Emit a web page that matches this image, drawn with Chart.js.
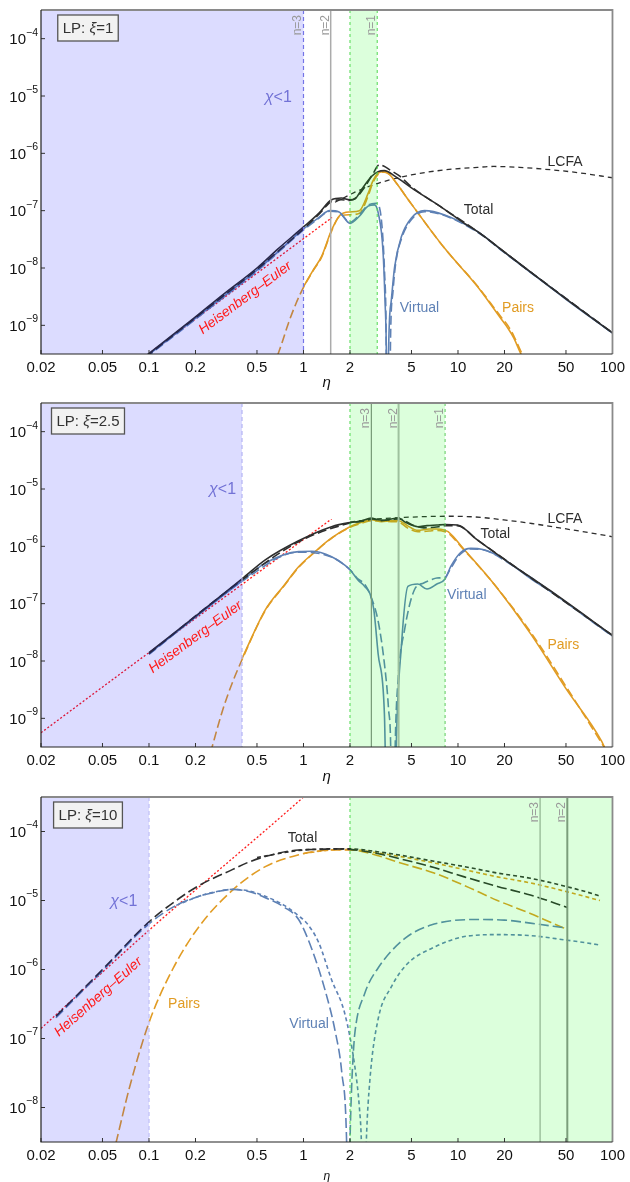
<!DOCTYPE html>
<html><head><meta charset="utf-8">
<script src="https://cdn.jsdelivr.net/npm/chart.js@4.4.0/dist/chart.umd.min.js"></script>
<style>
html,body{margin:0;padding:0;background:#fff;}
#wrap{position:relative;width:630px;height:1182px;overflow:hidden;}
canvas{position:absolute;left:0;}
</style></head><body>
<div id="wrap">
<canvas id="c1" width="630" height="393" style="top:0px"></canvas>
<canvas id="c2" width="630" height="394" style="top:393px"></canvas>
<canvas id="c3" width="630" height="395" style="top:787px"></canvas>
</div>
<script>
// ---------- axes ----------
const xTicks = [0.02,0.05,0.1,0.2,0.5,1,2,5,10,20,50,100];
const xTickLabels = ['0.02','0.05','0.1','0.2','0.5','1','2','5','10','20','50','100'];
const yTicksAB = [1e-4,1e-5,1e-6,1e-7,1e-8,1e-9];
const yTickExpAB = ['−4','−5','−6','−7','−8','−9'];
const yTicksC = [1e-4,1e-5,1e-6,1e-7,1e-8];
const yTickExpC = ['−4','−5','−6','−7','−8'];
const xRange = [0.02, 100];
const yRangeAB = [3.1623e-10, 3.1623e-4];
const yRangeC = [3.1623e-9, 3.1623e-4];

// ---------- panel 1 : LP xi=1 ----------
const p1TotalEta = [0.095,0.2,0.3,0.5,0.69,1.0,1.25,1.52,1.76,2.0,2.15,2.37,2.74,3.04,3.34,3.9,5.0,8.0,11.0,13.4,20,30,50,100];
const p1TotalVal = [2.9e-10,1.4e-9,3.4e-9,1.0e-8,2.2e-8,5.2e-8,8.9e-8,1.55e-7,1.66e-7,1.55e-7,1.6e-7,2.3e-7,3.9e-7,4.8e-7,5.0e-7,4.0e-7,2.5e-7,1.1e-7,6.0e-8,4.3e-8,1.9e-8,8.2e-9,2.9e-9,7.4e-10];
const p1TotalDashEta = [0.095,0.3,0.5,0.69,1.0,1.25,1.52,1.76,2.0,2.2,2.5,2.8,3.1,3.3,3.6,4.2,5.0,8.0,13.4,30,100];
const p1TotalDashVal = [2.8e-10,3.2e-9,9.5e-9,2.0e-8,4.8e-8,8.5e-8,1.45e-7,1.55e-7,1.5e-7,1.7e-7,2.6e-7,4.3e-7,6.3e-7,6.0e-7,5.2e-7,4.0e-7,2.6e-7,1.1e-7,4.3e-8,8.2e-9,7.4e-10];
const p1LcfaEta = [1.6,2.0,2.15,3.04,4.98,8.0,13.4,17.1,25,35.9,60,100];
const p1LcfaVal = [1.4e-7,1.9e-7,2.1e-7,3.0e-7,4.2e-7,5.1e-7,5.7e-7,5.9e-7,5.7e-7,5.3e-7,4.6e-7,3.75e-7];
const p1PairsEta = [1.0,1.15,1.31,1.52,1.72,2.0,2.3,2.62,2.8,3.04,3.34,3.6,4.0,5.0,8.2,13.4,19,21,23,25.5,27];
const p1PairsVal = [4.7e-9,9e-9,1.6e-8,4.6e-8,8.3e-8,9.5e-8,1.0e-7,2.0e-7,3.2e-7,4.5e-7,4.8e-7,4.3e-7,3.0e-7,1.3e-7,2.2e-8,4.7e-9,1.3e-9,9e-10,6e-10,3.2e-10,2.4e-10];
const p1PairsDashEta = [0.68,0.725,0.8,0.9,1.0,1.15,1.31,1.52,1.72,2.0,2.3,2.62,2.8,3.04,3.34,3.6,4.0,5.0,8.2,13.4,19,21,23,26,28];
const p1PairsDashVal = [3e-10,4.9e-10,1.1e-9,2.5e-9,4.6e-9,8.8e-9,1.55e-8,4.4e-8,8e-8,8.5e-8,9e-8,1.8e-7,3.0e-7,4.3e-7,4.7e-7,4.3e-7,3.0e-7,1.3e-7,2.2e-8,4.8e-9,1.4e-9,1.0e-9,6.5e-10,3.2e-10,2.4e-10];
const p1VirtEta = [0.095,0.3,0.5,0.69,1.0,1.25,1.48,1.7,2.0,2.3,2.62,2.88,3.05,3.27,3.37,3.44,3.47,3.52,3.55,3.70,3.89,4.3,4.98,6.07,8.2,13.4,20,30,50,100];
const p1VirtVal = [2.8e-10,3.1e-9,9.2e-9,1.95e-8,4.8e-8,7.5e-8,1.0e-7,9.5e-8,6.0e-8,8.0e-8,1.2e-7,1.26e-7,9e-8,2e-8,2.7e-9,3e-10,1e-11,1e-11,3e-10,2.7e-9,1.05e-8,3.5e-8,7.4e-8,1.0e-7,8.4e-8,4.3e-8,1.88e-8,8.1e-9,2.85e-9,7.3e-10];
const p1VirtDashEta = [0.095,0.3,0.5,0.69,1.0,1.25,1.48,1.7,2.0,2.3,2.62,2.95,3.1,3.25,3.35,3.42,3.47,3.6,3.66,3.8,3.95,4.3,5.0,6.07,8.2,13.4,20,100];
const p1VirtDashVal = [2.7e-10,3.0e-9,8.8e-9,1.9e-8,4.6e-8,7.3e-8,9.8e-8,9.3e-8,6.3e-8,8.5e-8,1.25e-7,1.35e-7,1.15e-7,4e-8,8e-9,1.2e-9,1e-11,1e-11,6e-10,4e-9,1.2e-8,3.2e-8,7e-8,9.6e-8,8.2e-8,4.2e-8,1.85e-8,7.3e-10];
const p1HeEta = [0.09,0.5,1.53];
const p1HeVal = [2.6e-10,8.1e-9,7.6e-8];

// ---------- panel 2 : LP xi=2.5 ----------
const p2TotalEta = [0.1,0.211,0.4,0.566,0.93,1.52,2.0,2.35,2.74,3.04,3.34,3.7,4.13,4.6,5.5,6.3,7.3,8.25,9.9,13.4,21.8,39.4,100];
const p2TotalVal = [1.4e-8,6.8e-8,2.7e-7,5.8e-7,1.25e-6,2.2e-6,2.6e-6,2.75e-6,3.1e-6,2.9e-6,2.85e-6,3.0e-6,3.1e-6,2.6e-6,2.2e-6,2.3e-6,2.35e-6,2.4e-6,2.35e-6,1.28e-6,5.0e-7,1.7e-7,2.8e-8];
const p2TotalDashEta = [0.1,0.4,0.93,2.0,2.5,2.8,3.2,3.7,4.2,5.0,6.0,7.5,8.25,9.9,13.4,100];
const p2TotalDashVal = [1.35e-8,2.6e-7,1.2e-6,2.55e-6,2.8e-6,3.0e-6,2.8e-6,2.95e-6,3.0e-6,2.4e-6,2.1e-6,2.2e-6,2.3e-6,2.3e-6,1.28e-6,2.8e-8];
const p2LcfaEta = [2.0,3.0,4.5,8.5,13,21.8,30,45.5,96,100];
const p2LcfaVal = [2.65e-6,3.0e-6,3.2e-6,3.35e-6,3.25e-6,2.8e-6,2.5e-6,2.1e-6,1.5e-6,1.47e-6];
const p2PairsEta = [0.4,0.566,0.75,0.93,1.19,1.52,2.0,2.35,2.74,3.2,3.7,4.13,4.7,5.5,6.5,7.3,8.25,8.63,11.0,17.1,30,50,85,92];
const p2PairsVal = [1.1e-8,7.8e-8,2.1e-7,4.4e-7,8.1e-7,1.4e-6,2.2e-6,2.6e-6,2.9e-6,2.7e-6,2.8e-6,2.8e-6,2.3e-6,1.9e-6,2.0e-6,2.0e-6,1.9e-6,1.8e-6,8.7e-7,2.2e-7,2.8e-8,3.3e-9,4e-10,2.5e-10];
const p2PairsDashEta = [0.25,0.3,0.35,0.4,0.566,0.75,0.93,1.19,1.52,2.0,2.35,2.74,3.2,3.7,4.13,4.7,5.5,6.5,7.3,8.25,8.63,11.0,17.1,30,50,88,95];
const p2PairsDashVal = [2.5e-10,1.4e-9,4.5e-9,1.05e-8,7.6e-8,2.05e-7,4.3e-7,8.0e-7,1.38e-6,2.15e-6,2.5e-6,2.8e-6,2.75e-6,2.7e-6,2.65e-6,2.1e-6,1.8e-6,1.85e-6,1.9e-6,1.8e-6,1.7e-6,8.5e-7,2.2e-7,3.0e-8,3.6e-9,3.2e-10,2.3e-10];
const p2VirtEta = [0.1,0.211,0.4,0.566,0.93,1.13,1.52,1.85,2.0,2.25,2.49,2.69,2.85,3.04,3.34,3.48,3.6,3.9,3.98,4.3,4.74,5.5,6.3,7.3,8.25,9.0,10.4,12.1,14.5,18,21.8,30,39.4,100];
const p2VirtVal = [1.35e-8,6.5e-8,2.5e-7,5.1e-7,8.1e-7,8.2e-7,6.6e-7,4.7e-7,3.9e-7,2.6e-7,2.0e-7,1.5e-7,8e-8,1.35e-8,1.2e-9,1e-11,1e-11,1e-11,3e-10,1.8e-8,2.0e-7,2.2e-7,1.8e-7,2.2e-7,2.7e-7,4.5e-7,7.8e-7,9.2e-7,8.8e-7,7.0e-7,5.0e-7,2.65e-7,1.65e-7,2.75e-8];
const p2VirtDashEta = [0.1,0.4,0.93,1.52,2.0,2.25,2.49,2.74,3.04,3.34,3.55,3.68,3.72,3.85,3.92,4.1,4.51,5.2,6.0,6.69,7.3,8.25,9.0,10.4,12.1,14.5,21.8,100];
const p2VirtDashVal = [1.3e-8,2.45e-7,7.9e-7,6.5e-7,3.9e-7,2.7e-7,2.2e-7,1.3e-7,5e-8,9e-9,1.5e-9,2e-10,1e-11,1e-11,3e-10,5e-9,3.5e-8,1.7e-7,2.3e-7,2.6e-7,2.8e-7,2.9e-7,4.2e-7,7.4e-7,9.0e-7,8.7e-7,4.9e-7,2.7e-8];
const p2HeEta = [0.02,0.1,1.52];
const p2HeVal = [5.6e-10,1.4e-8,3.0e-6];

// ---------- panel 3 : LP xi=10 ----------
const p3TotalEta = [0.025,0.05,0.1,0.15,0.211,0.346,0.442,0.6,0.93,1.25,1.6,2.0,3.0,4.08,7.0,11.0,18,29.4,40,51];
const p3TotalVal = [2.1e-7,1.0e-6,4.9e-6,1.0e-5,1.65e-5,2.8e-5,3.6e-5,4.5e-5,5.4e-5,5.5e-5,5.6e-5,5.5e-5,4.8e-5,4.1e-5,3.0e-5,2.2e-5,1.6e-5,1.2e-5,9.6e-6,7.9e-6];
const p3TotalShortEta = [0.5,0.93,1.5,2.0,3.0,4.08,7.0,11.0,18,29.4,50,79,83];
const p3TotalShortVal = [4.2e-5,5.3e-5,5.6e-5,5.6e-5,5.1e-5,4.6e-5,3.7e-5,3.1e-5,2.5e-5,2.1e-5,1.6e-5,1.2e-5,1.15e-5];
const p3PairsEta = [0.061,0.075,0.1,0.142,0.211,0.346,0.566,0.93,1.25,1.6,2.0,3.0,4.08,7.0,11.0,18,29.4,40,51];
const p3PairsVal = [3e-9,2e-8,1.7e-7,1.0e-6,4.2e-6,1.4e-5,3.1e-5,4.6e-5,5.2e-5,5.4e-5,5.4e-5,4.5e-5,3.6e-5,2.5e-5,1.65e-5,1.0e-5,6.5e-6,4.8e-6,3.8e-6];
const p3PairsShortEta = [1.0,1.5,2.0,3.0,4.08,7.0,11.0,18,29.4,50,79,83];
const p3PairsShortVal = [4.8e-5,5.4e-5,5.5e-5,4.9e-5,4.4e-5,3.5e-5,2.8e-5,2.2e-5,1.8e-5,1.35e-5,1.03e-5,1.0e-5];
const p3VirtEta = [0.025,0.05,0.1,0.15,0.211,0.28,0.346,0.442,0.566,0.75,0.93,1.13,1.38,1.6,1.77,1.9,1.95,2.0,2.05,2.1,2.15,2.49,3.04,4.51,6.69,12.7,20,29.4,49.5];
const p3VirtVal = [2.0e-7,9.6e-7,4.6e-6,8.5e-6,1.15e-5,1.35e-5,1.45e-5,1.35e-5,1.1e-5,8e-6,5.3e-6,2.0e-6,5.0e-7,1.3e-7,3.2e-8,3.4e-9,1e-10,3.2e-9,2e-8,6e-8,1.2e-7,4.5e-7,1.05e-6,2.8e-6,4.4e-6,5.3e-6,5.2e-6,4.7e-6,4.0e-6];
const p3VirtShortEta = [0.15,0.211,0.28,0.346,0.442,0.566,0.75,0.93,1.05,1.25,1.52,1.85,2.15,2.3,2.37,2.45,2.55,2.69,3.04,3.70,4.74,6.69,11.0,18.0,29.4,48.3,79.1,83];
const p3VirtShortVal = [8.5e-6,1.15e-5,1.36e-5,1.45e-5,1.38e-5,1.15e-5,8.5e-6,6.0e-6,4.7e-6,2.5e-6,7.1e-7,2.3e-7,3.9e-8,1e-8,3.2e-9,1e-10,3.2e-9,2.5e-8,1.9e-7,5.6e-7,1.23e-6,2.0e-6,3.0e-6,3.2e-6,3.1e-6,2.7e-6,2.3e-6,2.25e-6];
const p3HeEta = [0.02,0.1,1.0,1.2];
const p3HeVal = [1.4e-7,3.7e-6,3.16e-4,4.6e-4];

// ---------- styles ----------
const BLACK='#2e2e2e', BLUE='#5E81B5', ORANGE='#E19C24', RED='#ff1a1a';
const FONT='"Liberation Sans", Arial, sans-serif';
Chart.defaults.font.family = FONT;

function pts(e,v){ return e.map((x,i)=>({x:x, y:v[i]})); }
function line(label,e,v,color,dash,w){
  return {label:label, data:pts(e,v), borderColor:color, borderWidth:w||1.6, borderDash:dash||[],
    pointRadius:0, fill:false, cubicInterpolationMode:'monotone', borderCapStyle:'butt'};
}
function nearestLabel(val, ticks, labels){
  for(let i=0;i<ticks.length;i++){ if(Math.abs(Math.log10(val)-Math.log10(ticks[i]))<1e-6) return labels[i]; }
  return '';
}
function richWidth(ctx, parts, size){
  let w=0; parts.forEach(p=>{ ctx.font=(p.i?'italic ':'')+size+'px '+FONT; w+=ctx.measureText(p.t).width; }); return w;
}
function drawRich(ctx, parts, x, y, size, align, color){
  const w=richWidth(ctx,parts,size);
  let cx = align==='right'? x-w : align==='center'? x-w/2 : x;
  ctx.fillStyle=color; ctx.textBaseline='middle'; ctx.textAlign='left';
  parts.forEach(p=>{ ctx.font=(p.i?'italic ':'')+size+'px '+FONT; ctx.fillText(p.t,cx,y); cx+=ctx.measureText(p.t).width; });
  return w;
}

function makePanel(id, P){
  const deco = {
    id:'deco',
    afterDatasetsDraw(chart){
      const ctx=chart.ctx, a=chart.chartArea, X=v=>chart.scales.x.getPixelForValue(v);
      ctx.save();
      ctx.beginPath(); ctx.rect(a.left,a.top,a.right-a.left,a.bottom-a.top); ctx.clip();
      P.nLines.forEach(n=>{ if(!n.color) return; ctx.strokeStyle=n.color; ctx.lineWidth=n.w; ctx.setLineDash([]);
        const px=X(n.x); ctx.beginPath(); ctx.moveTo(px,a.top); ctx.lineTo(px,a.bottom); ctx.stroke(); });
      const cx=X(P.chi);
      ctx.fillStyle='rgba(0,0,255,0.137)'; ctx.fillRect(a.left,a.top,cx-a.left,a.bottom-a.top);
      const b0=X(P.band[0]), b1=Math.min(X(P.band[1]),a.right);
      ctx.fillStyle='rgba(0,255,0,0.137)'; ctx.fillRect(b0,a.top,b1-b0,a.bottom-a.top);
      P.edges.forEach(e=>{ ctx.strokeStyle=e.color; ctx.lineWidth=e.w||1; ctx.setLineDash(e.dash||[]);
        const px=X(e.x); ctx.beginPath(); ctx.moveTo(px,a.top); ctx.lineTo(px,a.bottom); ctx.stroke(); });
      ctx.restore();
    },
    afterDraw(chart){
      const ctx=chart.ctx, a=chart.chartArea, X=v=>chart.scales.x.getPixelForValue(v), Y=v=>chart.scales.y.getPixelForValue(v);
      ctx.save();
      ctx.setLineDash([]);
      // ticks inward
      ctx.strokeStyle='#333'; ctx.lineWidth=1;
      xTicks.forEach(v=>{ const px=X(v); ctx.beginPath(); ctx.moveTo(px,a.bottom); ctx.lineTo(px,a.bottom-4); ctx.stroke(); });
      P.yTicks.forEach(v=>{ const py=Y(v); ctx.beginPath(); ctx.moveTo(a.left,py); ctx.lineTo(a.left+4,py); ctx.stroke(); });
      // y tick labels: 10 with superscript exponent
      P.yTicks.forEach((v,i)=>{ const py=Y(v);
        ctx.fillStyle='#111'; ctx.textBaseline='middle'; ctx.textAlign='right';
        ctx.font='10.5px '+FONT; const ew=ctx.measureText(P.yExp[i]).width;
        const xr=a.left-3;
        ctx.fillText(P.yExp[i], xr, py-6);
        ctx.font='15px '+FONT; ctx.fillText('10', xr-ew, py+1.5);
      });
      // frame
      ctx.strokeStyle='#8a8a8a'; ctx.lineWidth=1.8;
      ctx.beginPath(); ctx.moveTo(a.left,a.top); ctx.lineTo(a.right,a.top); ctx.lineTo(a.right,a.bottom); ctx.stroke();
      ctx.strokeStyle='#222'; ctx.lineWidth=1.2;
      ctx.beginPath(); ctx.moveTo(a.left,a.top); ctx.lineTo(a.left,a.bottom); ctx.lineTo(a.right,a.bottom); ctx.stroke();
      // n labels
      P.nLines.forEach(n=>{ ctx.save(); ctx.translate(X(n.x)-2, a.top+5); ctx.rotate(-Math.PI/2);
        ctx.font='12px '+FONT; ctx.fillStyle='#9a9a9a'; ctx.textAlign='right'; ctx.textBaseline='alphabetic';
        ctx.fillText(n.label,0,0); ctx.restore(); });
      // curve labels
      P.labels.forEach(l=>{ ctx.font='14px '+FONT; ctx.fillStyle=l.c; ctx.textAlign='left'; ctx.textBaseline='middle';
        ctx.fillText(l.t, X(l.x), Y(l.y)); });
      // chi < 1
      drawRich(ctx,[{t:'χ',i:true},{t:'<1'}], X(P.chiLabel.x), Y(P.chiLabel.y), 16, 'right', '#7272d6');
      // Heisenberg-Euler label
      const he=P.heLine;
      const ang=Math.atan2(Y(he.v[he.v.length-1])-Y(he.v[0]), X(he.e[he.e.length-1])-X(he.e[0]));
      ctx.save(); ctx.translate(X(P.heLabel.x), Y(P.heLabel.y)); ctx.rotate(ang);
      ctx.font='italic 14px '+FONT; ctx.fillStyle=RED; ctx.textAlign='center'; ctx.textBaseline='middle';
      ctx.fillText('Heisenberg–Euler',0,0); ctx.restore();
      // LP box
      const parts=[{t:'LP: '},{t:'ξ',i:true},{t:'='+P.xi}];
      const w=richWidth(ctx,parts,15);
      const bx=a.left+47, by=a.top+18, bw=w+10, bh=26;
      ctx.fillStyle='#f2f2f2'; ctx.fillRect(bx-bw/2,by-bh/2,bw,bh);
      ctx.strokeStyle='#555'; ctx.lineWidth=1.3; ctx.strokeRect(bx-bw/2,by-bh/2,bw,bh);
      drawRich(ctx,parts,bx,by+0.5,15,'center','#333');
      // eta title
      ctx.font='italic '+P.etaSize+'px '+FONT; ctx.fillStyle='#111'; ctx.textAlign='center'; ctx.textBaseline='middle';
      ctx.fillText('η',(a.left+a.right)/2, a.bottom+P.etaOff);
      ctx.restore();
    }
  };
  const cv=document.getElementById(id);
  return new Chart(cv,{
    type:'line',
    data:{datasets:P.datasets},
    options:{
      responsive:false, animation:false, devicePixelRatio:1,
      layout:{padding:{top:10,right:14,left:0,bottom:0}},
      plugins:{legend:{display:false},tooltip:{enabled:false}},
      scales:{
        x:{type:'logarithmic', min:xRange[0], max:xRange[1],
           afterBuildTicks:s=>{ s.ticks=xTicks.map(v=>({value:v})); },
           afterFit:s=>{ s.height=cv.height-P.bottom; },
           grid:{display:false,drawTicks:false}, border:{display:false},
           ticks:{autoSkip:false,maxRotation:0,minRotation:0,padding:5,color:'#111',font:{size:15},
             callback:v=>nearestLabel(v,xTicks,xTickLabels)}},
        y:{type:'logarithmic', min:P.yRange[0], max:P.yRange[1],
           afterBuildTicks:s=>{ s.ticks=P.yTicks.map(v=>({value:v})); },
           afterFit:s=>{ s.width=41; },
           grid:{display:false,drawTicks:false}, border:{display:false},
           ticks:{display:false}}
      }
    },
    plugins:[deco]
  });
}

const LONG=[9,4], SHORT=[4,3], LCFA=[5,4], DOT=[2,2];

makePanel('c1',{
  xi:'1', bottom:354, yRange:yRangeAB, yTicks:yTicksAB, yExp:yTickExpAB, etaSize:15, etaOff:29,
  chi:1, band:[2,3],
  nLines:[{x:1,label:'n=3'},{x:1.5,label:'n=2',color:'#ababab',w:1.5},{x:3,label:'n=1'}],
  edges:[{x:1,color:'#7474e6',dash:[4,3],w:1.2},{x:2,color:'#4fd84f',dash:[3,3]},{x:3,color:'#4fd84f',dash:[3,3]}],
  labels:[{t:'LCFA',x:38,y:6.9e-7,c:BLACK},{t:'Total',x:10.9,y:1.02e-7,c:BLACK},{t:'Virtual',x:4.2,y:2e-9,c:BLUE},{t:'Pairs',x:19.3,y:2e-9,c:ORANGE}],
  chiLabel:{x:0.84,y:9.3e-6}, heLabel:{x:0.42,y:3e-9}, heLine:{e:p1HeEta,v:p1HeVal},
  datasets:[
    line('Total',p1TotalEta,p1TotalVal,BLACK,[],1.6),
    line('Total dashed',p1TotalDashEta,p1TotalDashVal,BLACK,LONG,1.6),
    line('Virtual',p1VirtEta,p1VirtVal,BLUE,[],1.6),
    line('Virtual dashed',p1VirtDashEta,p1VirtDashVal,BLUE,LONG,1.6),
    line('Pairs',p1PairsEta,p1PairsVal,ORANGE,[],1.6),
    line('Pairs dashed',p1PairsDashEta,p1PairsDashVal,ORANGE,LONG,1.6),
    line('LCFA',p1LcfaEta,p1LcfaVal,BLACK,LCFA,1.3),
    line('Heisenberg-Euler',p1HeEta,p1HeVal,RED,DOT,1.3)
  ]
});

makePanel('c2',{
  xi:'2.5', bottom:354, yRange:yRangeAB, yTicks:yTicksAB, yExp:yTickExpAB, etaSize:15, etaOff:30,
  chi:0.4, band:[2,8.25],
  nLines:[{x:2.75,label:'n=3',color:'#8a8a8a',w:1.2},{x:4.125,label:'n=2',color:'#b8b8b8',w:2},{x:8.25,label:'n=1'}],
  edges:[{x:0.4,color:'#b4b4f4',dash:[4,3],w:1.2},{x:2,color:'#4fd84f',dash:[3,3]},{x:8.25,color:'#5cc85c',dash:[3,3]}],
  labels:[{t:'LCFA',x:37.9,y:3.0e-6,c:BLACK},{t:'Total',x:14,y:1.64e-6,c:BLACK},{t:'Virtual',x:8.5,y:1.4e-7,c:BLUE},{t:'Pairs',x:37.9,y:1.9e-8,c:ORANGE}],
  chiLabel:{x:0.366,y:9.6e-6}, heLabel:{x:0.2,y:2.6e-8}, heLine:{e:p2HeEta,v:p2HeVal},
  datasets:[
    line('Total',p2TotalEta,p2TotalVal,BLACK,[],1.6),
    line('Total dashed',p2TotalDashEta,p2TotalDashVal,BLACK,LONG,1.6),
    line('Virtual',p2VirtEta,p2VirtVal,BLUE,[],1.6),
    line('Virtual dashed',p2VirtDashEta,p2VirtDashVal,BLUE,LONG,1.6),
    line('Pairs',p2PairsEta,p2PairsVal,ORANGE,[],1.6),
    line('Pairs dashed',p2PairsDashEta,p2PairsDashVal,ORANGE,LONG,1.6),
    line('LCFA',p2LcfaEta,p2LcfaVal,BLACK,LCFA,1.3),
    line('Heisenberg-Euler',p2HeEta,p2HeVal,RED,DOT,1.3)
  ]
});

makePanel('c3',{
  xi:'10', bottom:355, yRange:yRangeC, yTicks:yTicksC, yExp:yTickExpC, etaSize:12, etaOff:35,
  chi:0.1, band:[2,120],
  nLines:[{x:34,label:'n=3',color:'#b8b8b8',w:1.5},{x:51,label:'n=2',color:'#8f8f8f',w:2}],
  edges:[{x:0.1,color:'#c4c4f8',dash:[4,3],w:1.4},{x:2,color:'#4fd84f',dash:[3,3]}],
  labels:[{t:'Total',x:0.79,y:8.1e-5,c:BLACK},{t:'Pairs',x:0.133,y:3.2e-7,c:ORANGE},{t:'Virtual',x:0.81,y:1.6e-7,c:BLUE}],
  chiLabel:{x:0.084,y:9.6e-6}, heLabel:{x:0.047,y:4e-7}, heLine:{e:p3HeEta,v:p3HeVal},
  datasets:[
    line('Total',p3TotalEta,p3TotalVal,BLACK,[10,4],1.6),
    line('Total short',p3TotalShortEta,p3TotalShortVal,'#333',SHORT,1.6),
    line('Virtual',p3VirtEta,p3VirtVal,BLUE,[10,4],1.6),
    line('Virtual short',p3VirtShortEta,p3VirtShortVal,BLUE,SHORT,1.6),
    line('Pairs',p3PairsEta,p3PairsVal,ORANGE,[10,4],1.6),
    line('Pairs short',p3PairsShortEta,p3PairsShortVal,ORANGE,SHORT,1.6),
    line('Heisenberg-Euler',p3HeEta,p3HeVal,RED,DOT,1.3)
  ]
});
</script>
</body></html>
